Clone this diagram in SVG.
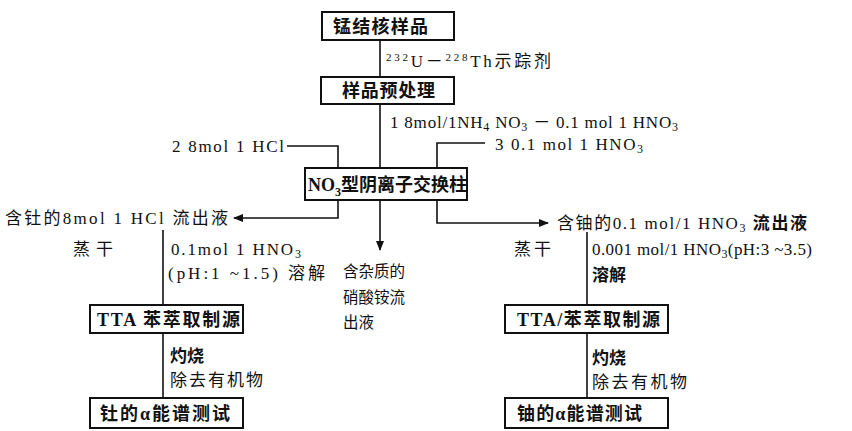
<svg xmlns="http://www.w3.org/2000/svg" width="852" height="431" viewBox="0 0 852 431">
<style>
text{font-family:"Liberation Serif","Noto Sans CJK SC",serif;font-size:17px;fill:#111}
.b{font-weight:bold;font-size:18px}
.s{font-size:15.5px}
.box{fill:#fff;stroke:#111;stroke-width:2}
.ln{fill:none;stroke:#111;stroke-width:1.6}
</style>
<defs>
<marker id="ah" markerWidth="10" markerHeight="8" refX="9" refY="4" orient="auto" markerUnits="userSpaceOnUse">
<path d="M0,0 L10,4 L0,8 Z" fill="#111"/>
</marker>
</defs>
<g id="connectors">
<path class="ln" d="M380,40 V77"/>
<path class="ln" d="M380,104 V168"/>
<path class="ln" d="M287,146 H338 V168"/>
<path class="ln" d="M485,143 H437 V168"/>
<path class="ln" d="M338,200 V218 H234" marker-end="url(#ah)"/>
<path class="ln" d="M380,200 V250" marker-end="url(#ah)"/>
<path class="ln" d="M437,200 V223 H548" marker-end="url(#ah)"/>
<path class="ln" d="M163,230 V305"/>
<path class="ln" d="M163,333 V398"/>
<path class="ln" d="M587,232 V305"/>
<path class="ln" d="M587,333 V398"/>
</g>
<g id="n1"><rect class="box" x="322" y="12" width="132" height="28"/><text class="b" x="333" y="33" textLength="95" lengthAdjust="spacing">锰结核样品</text></g>
<g id="n2"><rect class="box" x="321" y="77" width="133" height="27"/><text class="b" x="342" y="97" textLength="93" lengthAdjust="spacing">样品预处理</text></g>
<g id="n3"><rect class="box" x="305" y="168" width="162" height="32"/><text class="b" x="308" y="191">NO<tspan font-size="12" dy="5">3</tspan><tspan dy="-5">型阴离子交换柱</tspan></text></g>
<g id="n4"><rect class="box" x="90" y="305" width="153" height="28"/><text class="b" x="97" y="326" textLength="143" lengthAdjust="spacing">TTA 苯萃取制源</text></g>
<g id="n5"><rect class="box" x="90" y="398" width="153" height="30"/><text class="b" x="100" y="420" textLength="130" lengthAdjust="spacing">钍的α能谱测试</text></g>
<g id="n6"><rect class="box" x="505" y="305" width="163" height="28"/><text class="b" x="517" y="326" textLength="143" lengthAdjust="spacing">TTA/苯萃取制源</text></g>
<g id="n7"><rect class="box" x="505" y="398" width="163" height="30"/><text class="b" x="517" y="420" textLength="125" lengthAdjust="spacing">铀的α能谱测试</text></g>
<g id="labels">
<text x="386" y="67" textLength="165" lengthAdjust="spacing"><tspan font-size="11" dy="-6">232</tspan><tspan dy="6">U－</tspan><tspan font-size="11" dy="-6">228</tspan><tspan dy="6">Th示踪剂</tspan></text>
<text x="390" y="128" textLength="288" lengthAdjust="spacing">1 8mol/1NH<tspan font-size="12" dy="3">4</tspan><tspan dy="-3"> NO</tspan><tspan font-size="12" dy="3">3</tspan><tspan dy="-3"> － 0.1 mol 1 HNO</tspan><tspan font-size="12" dy="3">3</tspan></text>
<text x="172" y="152" textLength="112" lengthAdjust="spacing">2 8mol 1 HCl</text>
<text x="495" y="150" textLength="148" lengthAdjust="spacing">3 0.1 mol 1 HNO<tspan font-size="12" dy="3">3</tspan></text>
<text x="5" y="224" textLength="223" lengthAdjust="spacing">含钍的8mol 1 HCl 流出液</text>
<text x="557" y="229" textLength="250" lengthAdjust="spacing">含铀的0.1 mol/1 HNO<tspan font-size="12" dy="3">3</tspan><tspan dy="-3" font-weight="bold"> 流出液</tspan></text>
<text class="s" x="343" y="277" textLength="62" lengthAdjust="spacing">含杂质的</text>
<text class="s" x="343" y="303" textLength="62" lengthAdjust="spacing">硝酸铵流</text>
<text class="s" x="343" y="328" textLength="31" lengthAdjust="spacing">出液</text>
<text x="73" y="255" textLength="40" lengthAdjust="spacing">蒸干</text>
<text x="171" y="255" textLength="130" lengthAdjust="spacing">0.1mol 1 HNO<tspan font-size="12" dy="3">3</tspan></text>
<text x="168" y="279" textLength="157" lengthAdjust="spacing">(pH:1 ~1.5) 溶解</text>
<text x="514" y="255" textLength="37" lengthAdjust="spacing">蒸干</text>
<text x="592" y="255" textLength="220" lengthAdjust="spacing">0.001 mol/1 HNO<tspan font-size="12" dy="3">3</tspan><tspan dy="-3">(pH:3 ~3.5)</tspan></text>
<text x="592" y="281" font-weight="bold">溶解</text>
<text x="170" y="362" font-weight="bold">灼烧</text>
<text x="170" y="386" textLength="93" lengthAdjust="spacing">除去有机物</text>
<text x="592" y="364" font-weight="bold">灼烧</text>
<text x="592" y="388" textLength="95" lengthAdjust="spacing">除去有机物</text>
</g>
</svg>
